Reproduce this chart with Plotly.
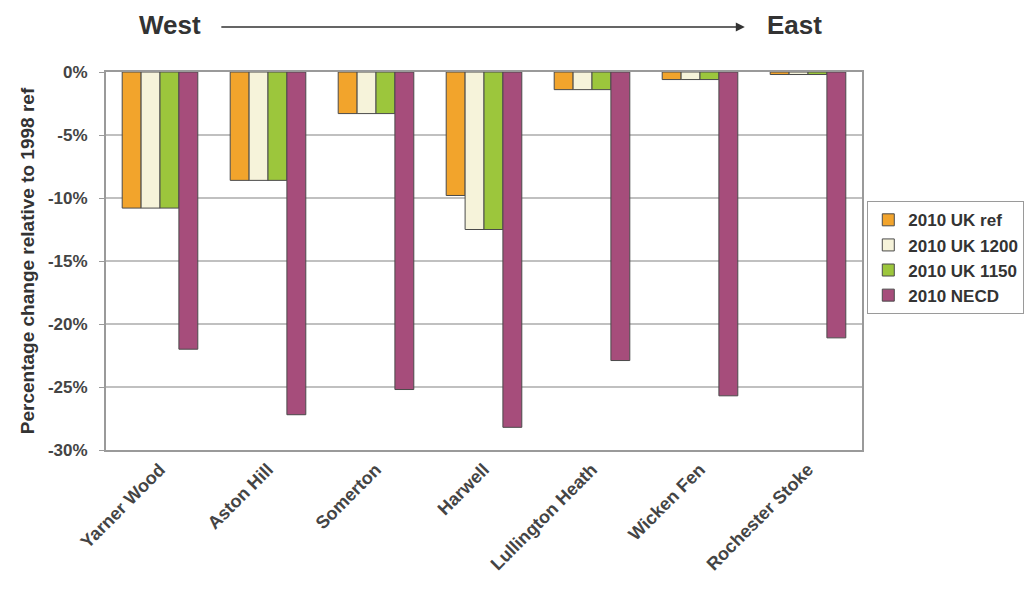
import plotly.graph_objects as go

sites = ["Yarner Wood", "Aston Hill", "Somerton", "Harwell", "Lullington Heath", "Wicken Fen", "Rochester Stoke"]
uk_ref = [-10.8, -8.6, -3.3, -9.8, -1.4, -0.6, -0.2]
uk_1200 = [-10.8, -8.6, -3.3, -12.5, -1.4, -0.6, -0.2]
uk_1150 = [-10.8, -8.6, -3.3, -12.5, -1.4, -0.6, -0.2]
necd = [-22.0, -27.2, -25.2, -28.2, -22.9, -25.7, -21.1]

series_names = ["2010 UK ref", "2010 UK 1200", "2010 UK 1150", "2010 NECD"]
series_vals = [uk_ref, uk_1200, uk_1150, necd]
colors = ["#F2A42C", "#F6F3DA", "#9CC63C", "#A64D7B"]

tick_vals = [0, -5, -10, -15, -20, -25, -30]
tick_text = ["0%", "-5%", "-10%", "-15%", "-20%", "-25%", "-30%"]

fig = go.Figure()
for name, vals, c in zip(series_names, series_vals, colors):
    fig.add_trace(go.Bar(
        x=sites, y=vals, name=name,
        marker=dict(color=c, line=dict(color="#4a4a4a", width=1)),
    ))

font_fam = "Liberation Sans, Arial, sans-serif"
fig.update_layout(
    width=1027, height=583,
    margin=dict(l=98, r=173, t=64, b=141, autoexpand=False),
    paper_bgcolor="white", plot_bgcolor="white",
    barmode="group", bargap=0.3, bargroupgap=0,
    font=dict(family=font_fam, color="#333333"),
    showlegend=True,
    legend=dict(
        x=1.007, xanchor="left", y=0.658, yanchor="top",
        bordercolor="#9a9a9a", borderwidth=1,
        font=dict(size=17, family=font_fam, color="#333333", weight="bold"),
        itemwidth=30, tracegroupgap=0,
    ),
    xaxis=dict(
        tickangle=-45, showgrid=False, showline=True, linecolor="#9a9a9a", linewidth=2,
        mirror=True, ticks="", tickfont=dict(size=18, weight="bold", color="#444444"),
    ),
    yaxis=dict(
        range=[-30, 0], tickvals=tick_vals, ticktext=tick_text,
        showgrid=True, gridcolor="#c0c0c0", gridwidth=1.5,
        showline=True, linecolor="#9a9a9a", linewidth=2, mirror=True,
        ticks="outside", ticklen=5, tickcolor="#9a9a9a", ticklabelstandoff=8,
        zeroline=False,
        tickfont=dict(size=17, weight="bold", color="#444444"),
        title=dict(text="Percentage change relative to 1998 ref",
                   font=dict(size=19, weight="bold", color="#333333"), standoff=8),
    ),
    annotations=[
        dict(text="West", x=0.085, y=1.124, xref="paper", yref="paper", showarrow=False,
             xanchor="center", yanchor="middle",
             font=dict(size=26, weight="bold", color="#333333")),
        dict(text="East", x=0.911, y=1.124, xref="paper", yref="paper", showarrow=False,
             xanchor="center", yanchor="middle",
             font=dict(size=26, weight="bold", color="#333333")),
        dict(text="", x=0.845, y=1.119, xref="paper", yref="paper", showarrow=True,
             ax=-525, ay=0, axref="pixel", ayref="pixel", arrowhead=2, arrowsize=1.2,
             arrowwidth=1.5, arrowcolor="#333333"),
    ],
)

fig.write_html("out.html")
